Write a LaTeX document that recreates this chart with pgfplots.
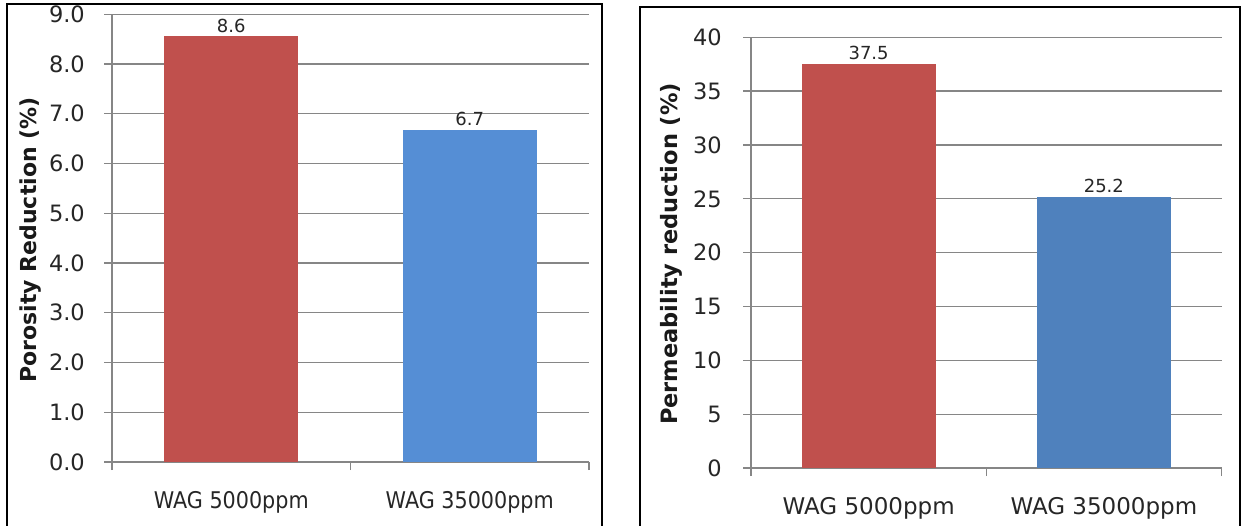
\documentclass[border=0pt]{standalone}
\usepackage{fontspec}
\setmainfont{DejaVu Sans}
\usepackage{pgfplots}
\pgfplotsset{compat=1.18}
\definecolor{barred}{RGB}{192,80,77}
\definecolor{barblueL}{RGB}{85,142,213}
\definecolor{barblueR}{RGB}{79,129,189}
\definecolor{gridgray}{RGB}{134,134,134}
\pgfplotsset{excel/.style={
  scale only axis, clip=false, enlargelimits=false,
  axis lines*=left, x axis line style={-}, y axis line style={-},
  axis line style={gridgray, line width=1.3pt},
  ymajorgrids, grid style={gridgray, line width=1.3pt},
  tick align=outside, tick style={gridgray, line width=1.3pt},
  major tick length=8pt,
  xmin=-0.5, xmax=1.5,
  xtick={-0.5,0.5,1.5}, xticklabels={},
  extra x ticks={0,1},
  extra x tick labels={WAG 5000ppm, WAG 35000ppm},
  extra x tick style={major tick length=0pt, grid=none,
     xticklabel style={anchor=base, yshift=-46pt, inner sep=0pt, font=\fontsize{23}{26}\selectfont}},
  tick label style={font=\fontsize{22.5}{25}\selectfont, text=black!85},
  yticklabel style={anchor=east, inner sep=0pt},
  /pgf/number format/assume math mode=true,
  ybar, bar width=134pt,
  every axis plot/.append style={draw=none, bar shift=0pt},
  nodes near coords={\pgfmathprintnumber[fixed,precision=1,fixed zerofill,assume math mode=true]{\pgfplotspointmeta}},
  every node near coord/.append style={font=\fontsize{18}{20}\selectfont, text=black!85, anchor=base, yshift=4pt, inner sep=0pt},
}}
\begin{document}
\begin{tikzpicture}
\useasboundingbox (0,0) rectangle (1241pt,525pt);
% frames
\draw[line width=2pt] (7pt,-10pt) -- (7pt,521pt) -- (602pt,521pt) -- (602pt,-10pt);
\draw[line width=2pt] (640pt,-10pt) -- (640pt,517.7pt) -- (1240pt,517.7pt) -- (1240pt,-10pt);
% left chart
\begin{axis}[excel, at={(112pt,63pt)}, anchor=south west,
  width=477pt, height=447.7pt,
  ymin=0, ymax=9, ytick={0,1,...,9},
  yticklabel style={xshift=-19pt,
    /pgf/number format/.cd, fixed, fixed zerofill, precision=1},
  extra x tick style={xticklabel style={xscale=0.9}}]
\addplot[fill=barred] coordinates {(0,8.56)};
\addplot[fill=barblueL] coordinates {(1,6.68)};
\end{axis}
\node[rotate=90, font=\bfseries\fontsize{22}{24}\selectfont, text=black!90] at (31pt,285pt) {Porosity Reduction (\%)};
% right chart
\begin{axis}[excel, at={(751pt,57pt)}, anchor=south west,
  width=470.5pt, height=430.7pt,
  ymin=0, ymax=40, ytick={0,5,...,40},
  yticklabel style={xshift=-21pt}]
\addplot[fill=barred] coordinates {(0,37.54)};
\addplot[fill=barblueR] coordinates {(1,25.2)};
\end{axis}
\node[rotate=90, font=\bfseries\fontsize{22.5}{25}\selectfont, text=black!90] at (671pt,271pt) {Permeability reduction (\%)};
\end{tikzpicture}
\end{document}
